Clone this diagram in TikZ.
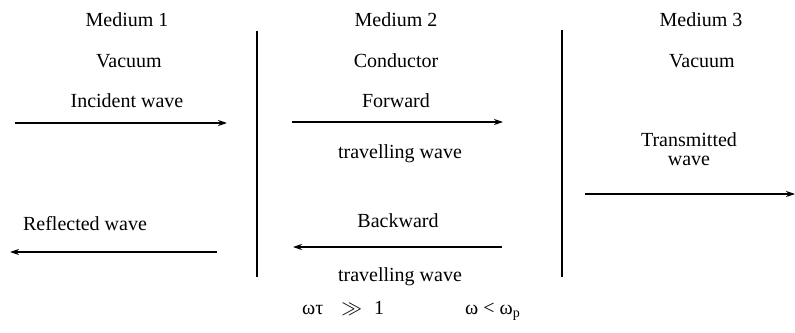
\documentclass[tikz,border=0pt]{standalone}
\usepackage{fontspec}
\setmainfont{Liberation Serif}
\usepackage{tikz}
\usetikzlibrary{arrows.meta,positioning}

\begin{document}
\begin{tikzpicture}[x=1pt, y=-1pt,
    lbl/.style={anchor=base, inner sep=0pt, font=\fontsize{20}{19}\selectfont, align=center},
    wave/.style={draw=black, line width=1.2pt, -{Stealth[length=9pt,width=6pt]}},
    wall/.style={draw=black, line width=1.6pt}
]
    \useasboundingbox (0,0) rectangle (795,332);

    % Medium 1
    \node[lbl] (med1) at (127,26) {Medium 1};
    \node[lbl] (vac1) at (129,67) {Vacuum};
    \node[lbl] (inc) at (127,107) {Incident wave};
    \node[lbl] (refl) at (85,230) {Reflected wave};

    % Medium 2
    \node[lbl] (med2) at (396,26) {Medium 2};
    \node[lbl] (cond) at (396,67) {Conductor};
    \node[lbl] (fwd) at (396,107) {Forward};
    \node[lbl] (fwdwave) at (400,158) {travelling wave};
    \node[lbl] (bwd) at (398,227) {Backward};
    \node[lbl] (bwdwave) at (400,281) {travelling wave};

    % Medium 3
    \node[lbl] (med3) at (701,26) {Medium 3};
    \node[lbl] (vac3) at (702,67) {Vacuum};
    \node[lbl] (trans) at (689,165) {Transmitted\\wave};

    % Conditions
    \node[lbl, anchor=base west] (cond1) at (302,314) {ωτ\hspace{0.9em}$\gg$\hspace{0.6em}1};
    \node[lbl, anchor=base west] (cond2) at (465,314) {ω < ω\raisebox{-0.35ex}{\fontsize{14}{14}\selectfont p}};

    % Boundaries
    \coordinate (b1top) at (257,31);
    \coordinate (b1bot) at (257,277);
    \coordinate (b2top) at (562,30);
    \coordinate (b2bot) at (562,277);
    \draw[wall] (b1top) -- (b1bot);
    \draw[wall] (b2top) -- (b2bot);

    % Waves
    \coordinate (incs) at (15,123);
    \coordinate (ince) at (227,123);
    \coordinate (refs) at (217,252);
    \coordinate (refe) at (10,252);
    \coordinate (fwds) at (292,122);
    \coordinate (fwde) at (503,122);
    \coordinate (bwds) at (502,247);
    \coordinate (bwde) at (293,247);
    \coordinate (trs) at (585,194);
    \coordinate (tre) at (795,194);
    \draw[wave] (incs) -- (ince);
    \draw[wave] (refs) -- (refe);
    \draw[wave] (fwds) -- (fwde);
    \draw[wave] (bwds) -- (bwde);
    \draw[wave] (trs) -- (tre);

\end{tikzpicture}
\end{document}
